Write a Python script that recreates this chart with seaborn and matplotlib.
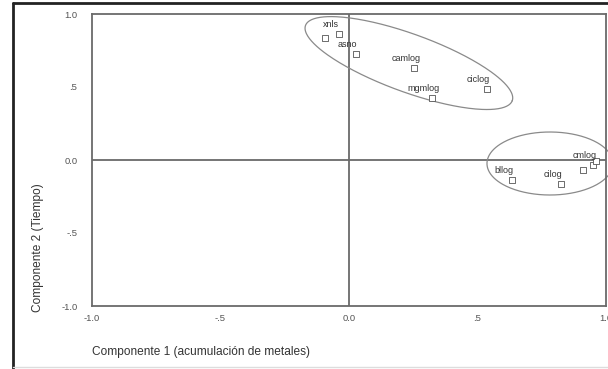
import numpy as np
import pandas as pd
import matplotlib
matplotlib.use("Agg")
import matplotlib.pyplot as plt
from matplotlib.lines import Line2D
import seaborn as sns

# ── Data (component loadings) ──────────────────────────────────
variables = ["v1", "xnls", "asno", "camlog", "mgmlog", "ciclog",
             "bllog", "cilog", "v9", "cmlog", "v11"]
labels = ["", "xnls", "asno", "camlog", "mgmlog", "ciclog",
          "bllog", "cilog", "", "cmlog", ""]
comp1 = [-0.093, -0.039, 0.027, 0.253, 0.323, 0.537,
         0.634, 0.825, 0.911, 0.949, 0.961]
comp2 = [0.836, 0.863, 0.726, 0.630, 0.425, 0.486,
         -0.137, -0.164, -0.068, -0.034, -0.007]

tick_values = [-1.0, -0.5, 0.0, 0.5, 1.0]
tick_labels = ["-1.0", "-.5", "0.0", ".5", "1.0"]

df = pd.DataFrame({"var": variables, "label": labels, "c1": comp1, "c2": comp2})

# ── Style ──────────────────────────────────────────────────────
sns.set_style("white")
plt.rcParams["font.family"] = ["Liberation Sans", "DejaVu Sans"]

W, H = 608, 369
fig = plt.figure(figsize=(W / 100, H / 100), dpi=100)
ax = fig.add_axes([92 / W, 1 - 306 / H, (606 - 92) / W, (306 - 14) / H])

grey = "#6a6a6a"
ax.axhline(0, color=grey, lw=1.3, zorder=1)
ax.axvline(0, color=grey, lw=1.3, zorder=1)

sns.scatterplot(data=df, x="c1", y="c2", ax=ax, marker="s", s=14,
                facecolor="white", edgecolor="#555555", linewidth=0.6,
                zorder=3, legend=False)

for _, r in df.iterrows():
    if r["label"]:
        ax.annotate(r["label"], (r["c1"], r["c2"]), xytext=(-6, 7),
                    textcoords="offset points", ha="center", va="center",
                    fontsize=6.5, color="#333333", zorder=4)

# ── Ellipses around the two groups (drawn in pixel-like space) ─
def draw_ellipse(cx, cy, a_px, b_px, ang_deg):
    t = np.linspace(0, 2 * np.pi, 300)
    th = np.deg2rad(ang_deg)
    dx = a_px * np.cos(th) * np.cos(t) - b_px * np.sin(th) * np.sin(t)
    dy = a_px * np.sin(th) * np.cos(t) + b_px * np.cos(th) * np.sin(t)
    ax.plot(cx + dx / 257, cy + dy / 146, color="#8a8a8a", lw=0.9,
            clip_on=False, zorder=2)

draw_ellipse(0.233, 0.664, 110, 29, -20)
draw_ellipse(0.782, -0.024, 63, 31.5, 0)

# ── Axes ───────────────────────────────────────────────────────
ax.set_xlim(-1, 1)
ax.set_ylim(-1, 1)
ax.set_xticks(tick_values)
ax.set_xticklabels(tick_labels)
ax.set_yticks(tick_values)
ax.set_yticklabels(tick_labels)
ax.tick_params(axis="both", direction="out", length=2.5, width=1.4,
               color="#222222", labelsize=6.8, labelcolor="#555555")
ax.tick_params(axis="y", pad=8)
ax.tick_params(axis="x", pad=3)
for s in ax.spines.values():
    s.set_color(grey)
    s.set_linewidth(1.3)

ax.set_xlabel("")
ax.set_ylabel("")
fig.text(92 / W, 1 - 352 / H, "Componente 1 (acumulación de metales)",
         ha="left", va="center", fontsize=8.6, color="#333333")
fig.text(38 / W, 1 - 312 / H, "Componente 2 (Tiempo)", rotation=90,
         ha="center", va="bottom", fontsize=8.6, color="#333333")

# ── Outer frame ────────────────────────────────────────────────
fig.add_artist(Line2D([13 / W, 1], [1 - 3 / H] * 2, color="#222222", lw=2))
fig.add_artist(Line2D([13 / W] * 2, [0, 1 - 3 / H], color="#222222", lw=2))
fig.add_artist(Line2D([13 / W, 1], [1 - 367 / H] * 2, color="#dddddd", lw=1))

fig.savefig("out.png", dpi=100)
